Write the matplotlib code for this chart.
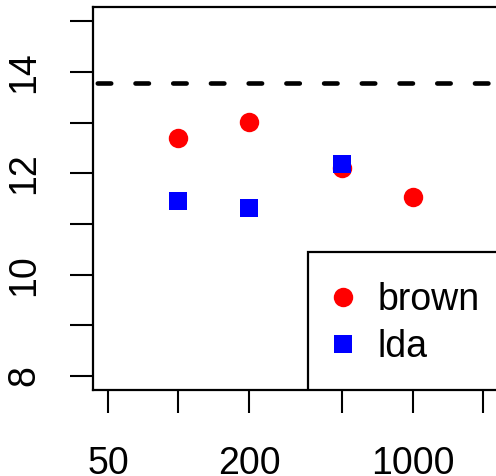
import numpy as np
import matplotlib
matplotlib.use("Agg")
import matplotlib.pyplot as plt
from matplotlib.patches import Rectangle

plt.rcParams['font.family'] = ['Liberation Sans', 'DejaVu Sans']

# data
sizes_brown = [100, 200, 500, 1000]
err_brown = [12.70, 13.02, 12.11, 11.53]
sizes_lda = [100, 200, 500]
err_lda = [11.45, 11.32, 12.19]
baseline = 13.78
xticks = [50, 100, 200, 500, 1000, 2000]
xticklabels = ['50', '', '200', '', '1000', '']
yticks = [8, 9, 10, 11, 12, 13, 14, 15]
yticklabels = ['8', '', '10', '', '12', '', '14', '']
series_names = ['brown', 'lda']

W, H = 496, 476
fig = plt.figure(figsize=(W / 100, H / 100), dpi=100)

# axes box in pixel coords
left_px, right_px, top_px, bot_px = 93, 498, 7, 390
ax = fig.add_axes([left_px / W, 1 - bot_px / H, (right_px - left_px) / W, (bot_px - top_px) / H])

ppd = 234.1  # pixels per decade
x50_px = 108
lo = np.log10(50) - (x50_px - left_px) / ppd
hi = np.log10(50) + (right_px - x50_px) / ppd
ax.set_xscale('log')
ax.set_xlim(10 ** lo, 10 ** hi)

ppu = 50.67
y8_px = 376
ax.set_ylim(8 - (bot_px - y8_px) / ppu, 8 + (y8_px - top_px) / ppu)

lw_px = 4.6
lw = lw_px * 0.72
ax.axhline(baseline, color='black', lw=lw, dash_capstyle='round',
           ls=(7.27, (2.92, 5.28)), zorder=1)

ax.plot(sizes_brown, err_brown, ls='none', marker='o', ms=14, mew=0,
        color='#FF0000', label=series_names[0], zorder=3)
ax.plot(sizes_lda, err_lda, ls='none', marker='s', ms=12.6, mew=0,
        color='#0000FF', label=series_names[1], zorder=4)

ax.set_xticks(xticks)
ax.set_xticklabels(xticklabels)
ax.xaxis.set_minor_locator(matplotlib.ticker.NullLocator())
ax.set_yticks(yticks)
ax.set_yticklabels(yticklabels, rotation=90, va='center')

fs = 27
ax.tick_params(axis='both', length=16.6, width=1.5, labelsize=fs, color='black')
ax.tick_params(axis='x', pad=24)
ax.tick_params(axis='y', pad=20)
for s in ax.spines.values():
    s.set_linewidth(1.6)

# legend frame
frame = Rectangle(((308 - left_px) / (right_px - left_px), 0),
                  2, (bot_px - 252) / (bot_px - top_px),
                  transform=ax.transAxes, fill=True, facecolor='white',
                  edgecolor='black', lw=1.6, zorder=5, clip_on=True)
ax.add_patch(frame)

leg = ax.legend(loc='upper left', bbox_to_anchor=(324 / W, 1 - 282 / H),
                bbox_transform=fig.transFigure, frameon=False, fontsize=fs,
                handlelength=1.0, handletextpad=0.43, borderpad=0,
                borderaxespad=0, labelspacing=0.29)
leg.set_zorder(6)

fig.savefig('out.png', dpi=100)
